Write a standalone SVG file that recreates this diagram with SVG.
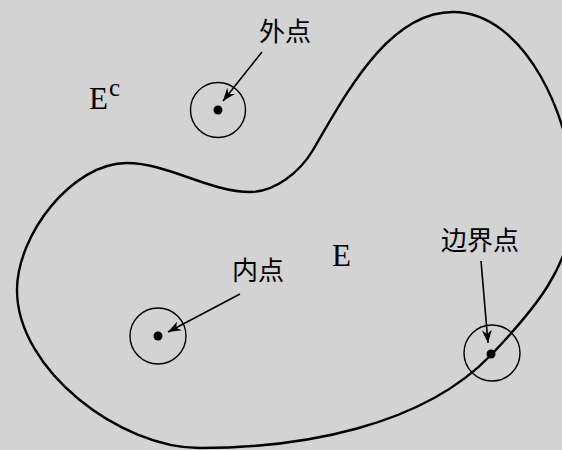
<svg xmlns="http://www.w3.org/2000/svg" width="562" height="450" viewBox="0 0 562 450">
<style>
.bg{fill:#d3d3d3}
.curve{fill:none;stroke:#000;stroke-width:2.4}
.nb{fill:none;stroke:#000;stroke-width:1.4}
.dot{fill:#000}
.arr{stroke:#000;stroke-width:1.6;fill:none;marker-end:url(#ah)}
.cjk{font-family:"Noto Sans CJK SC","Noto Sans CJK JP",sans-serif;font-size:26px;fill:#000;text-anchor:middle}
.lat{font-family:"Liberation Serif","Times New Roman",serif;fill:#000}
</style>
<defs>
<marker id="ah" markerUnits="userSpaceOnUse" markerWidth="14" markerHeight="10" refX="13" refY="5" orient="auto">
<path d="M0,0 L13,5 L0,10 L4,5 z" fill="#000"/>
</marker>
</defs>
<rect class="bg" x="0" y="0" width="562" height="450"/>
<g id="region-E">
<path class="curve" d="M250,192 C275,192 300,172 313,150 C346,94 388,12 453,12 C525,12 574,120 574,200 C574,265 532,312 491,355 C422,427 300,448 200,448 C120,448 17,370 17,290 C17,235 72,163 127,163 C167,163 210,192 250,192 Z"/>
<text class="lat" x="332" y="266" font-size="31">E</text>
</g>
<g id="label-Ec">
<text class="lat" x="89" y="109" font-size="31">E</text>
<text class="lat" x="109" y="96" font-size="25">c</text>
</g>
<g id="exterior-point">
<circle class="nb" cx="218" cy="110" r="27.5"/>
<circle class="dot" cx="218" cy="110" r="4.5"/>
<text class="cjk" x="285" y="41">外点</text>
</g>
<g id="interior-point">
<circle class="nb" cx="158" cy="336" r="28"/>
<circle class="dot" cx="158" cy="336" r="4.5"/>
<text class="cjk" x="258" y="280">内点</text>
</g>
<g id="boundary-point">
<circle class="nb" cx="492" cy="353" r="28"/>
<circle class="dot" cx="491" cy="354" r="4.5"/>
<text class="cjk" x="480" y="250">边界点</text>
</g>
<g id="connectors">
<line class="arr" x1="262" y1="52" x2="223" y2="101"/>
<line class="arr" x1="240" y1="294" x2="168" y2="332"/>
<line class="arr" x1="481" y1="261" x2="488" y2="343"/>
</g>
</svg>
